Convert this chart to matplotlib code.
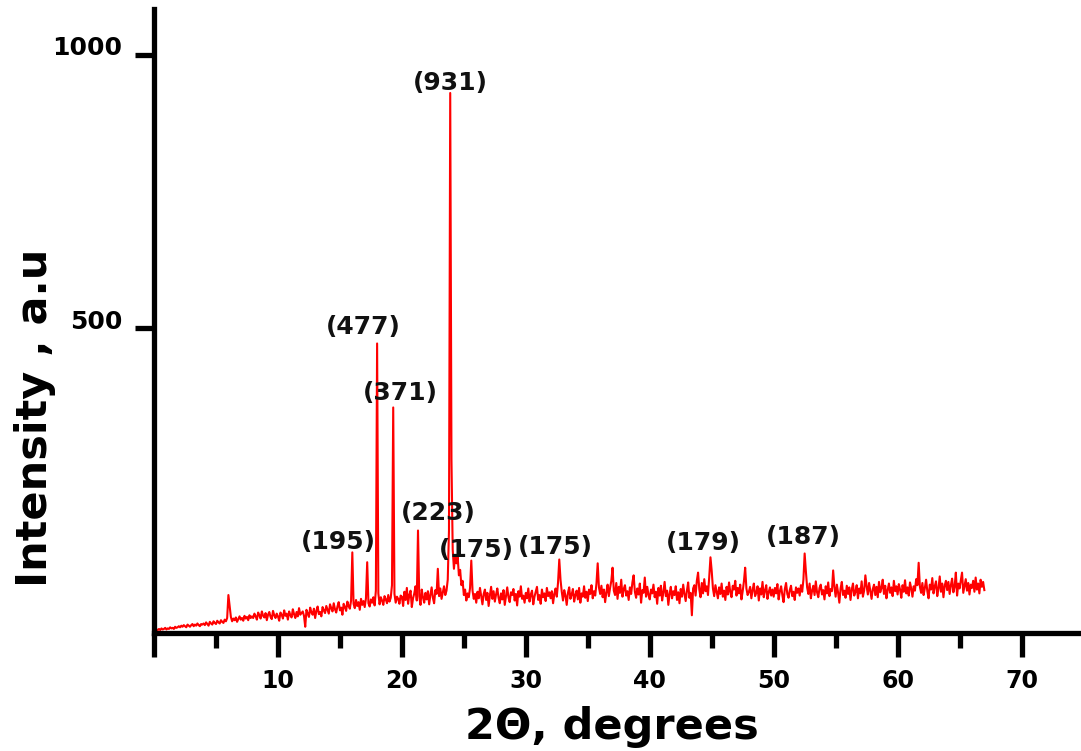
import numpy as np
import matplotlib
matplotlib.use('Agg')
import matplotlib.pyplot as plt
import matplotlib.transforms as mtransforms

# scan grid: 0.0 .. 67.0 degrees, 0.1 degree step
scan_start = 0.0
scan_step = 0.1

# intensity, one row per 2 degrees
intensity = [
    -54, -53, -51, -52, -50, -52, -49, -51, -50, -48, -51, -49, -50, -47, -49, -48, -50, -46, -48, -47,
    -45, -47, -44, -46, -43, -45, -47, -42, -44, -46, -43, -41, -45, -42, -44, -40, -43, -45, -41, -42,
    -40, -43, -38, -41, -44, -37, -40, -42, -36, -39, -41, -35, -38, -40, -34, -37, -39, -33, -36, -30,
    12, -8, -28, -36, -31, -34, -29, -37, -32, -27, -33, -30, -35, -26, -31, -28, -34, -25, -30, -27,
    -30, -22, -27, -33, -20, -25, -31, -18, -26, -29, -21, -34, -24, -19, -28, -32, -17, -25, -30, -22,
    -27, -35, -20, -24, -31, -16, -26, -22, -33, -18, -25, -29, -14, -23, -30, -19, -27, -12, -24, -21,
    -18, -26, -46, -15, -22, -28, -11, -20, -24, -13, -30, -17, -9, -23, -19, -27, -10, -16, -21, -8,
    -15, -22, -5, -12, -18, -3, -14, -20, -9, -1, -16, -11, -24, -4, -10, -17, 0, -8, -13, 2,
    90, -4, -12, 3, -8, -1, -15, 5, -6, 1, -10, 6, 72, -3, -9, 4, -2, 8, -7, 20,
    472, 15, -5, 8, 2, -6, 10, 4, -3, 12, 0, 7, 30, 355, 14, -2, 9, 5, -4, 11,
    9, -8, 18, 3, 25, -4, 12, 20, -10, 6, 15, 28, 2, 130, 10, -6, 22, 8, -2, 16,
    4, 19, -5, 12, 26, 7, -3, 21, 14, 60, 10, 24, 5, 17, 28, 12, 20, 40, 130, 930,
    260, 95, 60, 85, 70, 82, 48, 58, 30, 38, 12, 22, 2, 15, 8, 25, 75, 20, 5, 14,
    -2, 18, 6, 25, 10, -5, 14, 22, 3, 16, -8, 11, 27, 5, 19, 0, 13, 24, 7, -3,
    15, 4, 21, -6, 10, 26, 8, -1, 17, 12, 23, 2, 14, -7, 19, 9, 28, 5, 11, -2,
    16, 6, 24, 0, 13, 20, -5, 9, 18, 27, 3, 12, -4, 22, 8, 15, 1, 25, 10, 17,
    6, 19, -3, 14, 24, 9, 35, 77, 40, 18, 2, 21, 11, -6, 16, 26, 5, 13, 23, 0,
    12, 20, 4, 25, -2, 15, 9, 28, 7, 18, 1, 22, 14, 30, 6, 19, 11, 33, 70, 26,
    14, 29, 8, 22, -1, 17, 31, 10, 25, 38, 62, 20, 12, 34, 5, 27, 16, 40, 9, 23,
    30, 11, 19, 3, 26, 14, 35, 48, 18, 7, 24, 13, 33, -2, 21, 16, 44, 9, 27, 12,
    4, 22, 15, 31, 8, 18, -4, 25, 11, 29, 2, 17, 36, 10, 20, -6, 14, 27, 6, 19,
    12, 28, 3, 17, -3, 23, 9, 31, 14, 1, 20, 35, 7, 16, -25, 24, 30, 11, 38, 53,
    22, 8, 34, 15, 41, 19, 28, 12, 45, 81, 56, 24, 10, 30, 18, 6, 26, 14, 33, 9,
    20, 3, 27, 13, 35, 17, 8, 29, 22, 38, 11, 25, 15, 31, 4, 19, 37, 62, 24, 12,
    18, 27, 6, 21, 33, 10, 16, 28, 2, 24, 13, 36, 8, 20, 30, 5, 17, 26, 11, 22,
    9, 25, 15, 32, 4, 19, 28, 12, -1, 23, 34, 14, 7, 21, 29, 10, 18, 3, 26, 16,
    24, 11, 30, 18, 40, 88, 55, 26, 14, 33, 6, 20, 29, 12, 37, 17, 8, 25, 31, 13,
    21, 4, 28, 15, 35, 10, 23, 19, 57, 27, 9, 31, 16, -2, 24, 36, 12, 20, 7, 29,
    14, 26, 3, 22, 33, 11, 18, 30, 6, 24, 15, 37, 9, 20, 48, 28, 13, 34, 19, 5,
    23, 31, 12, 27, 8, 36, 17, 25, 40, 14, 29, 6, 21, 33, 16, 26, 10, 38, 19, 28,
    13, 32, 22, 7, 30, 18, 39, 15, 26, 11, 35, 24, 9, 28, 20, 41, 30, 71, 27, 16,
    34, 12, 25, 40, 19, 6, 31, 22, 43, 15, 28, 37, 10, 24, 46, 18, 33, 8, 29, 38,
    21, 36, 14, 30, 42, 17, 27, 53, 11, 33, 24, 39, 53, 16, 29, 41, 20, 34, 13, 31,
    25, 38, 18, 44, 22, 33, 15, 40, 27, 36, 21,
]
two_theta = scan_start + scan_step * np.arange(len(intensity))

# peak labels and where they sit
peak_labels = ['(931)', '(477)', '(371)', '(223)', '(195)', '(175)', '(175)', '(179)', '(187)']
label_x = [23.9, 16.85, 19.85, 22.95, 14.85, 26.05, 32.4, 44.3, 52.4]
label_y = [948, 502, 382, 162, 109, 94, 100, 107, 118]

x_ticks = [0, 10, 20, 30, 40, 50, 60, 70]
x_tick_labels = ['', '10', '20', '30', '40', '50', '60', '70']
x_minor_ticks = [5, 15, 25, 35, 45, 55, 65]
y_ticks = [500, 1000]

fig = plt.figure(figsize=(10.81, 7.51), dpi=100)
ax = fig.add_axes([0.1425, 0.1567, 0.8575, 0.8309])

ax.plot(two_theta, intensity, color='#ff0000', lw=1.5)

ax.set_xlim(0, 74.8)
ax.set_ylim(-58, 1083)

for side in ['top', 'right']:
    ax.spines[side].set_visible(False)
for side in ['left', 'bottom']:
    ax.spines[side].set_linewidth(3.8)
    ax.spines[side].set_capstyle('projecting')

ax.set_xticks(x_ticks)
ax.set_xticklabels(x_tick_labels)
ax.set_xticks(x_minor_ticks, minor=True)
ax.set_yticks(y_ticks)
ax.set_yticklabels([str(v) for v in y_ticks])

ax.tick_params(axis='x', which='major', length=17, width=3.8, pad=8.5)
ax.tick_params(axis='x', which='minor', length=11, width=3.8)
ax.tick_params(axis='y', which='major', length=14, width=3.8, pad=9)

for lab in ax.get_xticklabels():
    lab.set_fontsize(17)
    lab.set_fontweight('bold')
    lab.set_family('DejaVu Sans')
for lab in ax.get_yticklabels():
    lab.set_fontsize(18)
    lab.set_fontweight('bold')
    lab.set_family('DejaVu Sans')

# y tick labels sit a bit above their ticks
shift = mtransforms.ScaledTranslation(0, 9 / 100, fig.dpi_scale_trans)
for lab in ax.get_yticklabels():
    lab.set_transform(lab.get_transform() + shift)

for txt, lx, ly in zip(peak_labels, label_x, label_y):
    ax.text(lx, ly, txt, ha='center', va='center', fontsize=18,
            fontweight='bold', color='#111111', family='DejaVu Sans')

fig.text(0.5661, 0.0326, '2\u0398, degrees', ha='center', va='center',
         fontsize=31, fontweight='bold', family='DejaVu Sans')
fig.text(0.0324, 0.4434, 'Intensity , a.u', ha='center', va='center',
         rotation=90, fontsize=31, fontweight='bold', family='DejaVu Sans')

fig.savefig('out.png', dpi=100)
